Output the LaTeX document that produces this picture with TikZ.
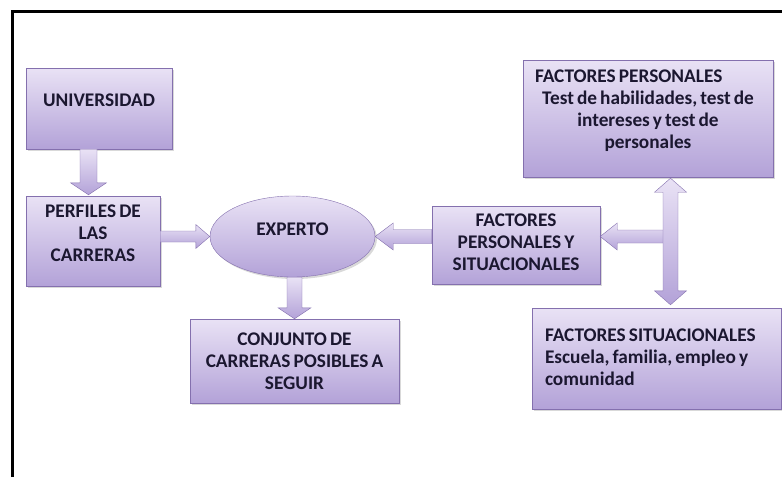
\documentclass[tikz,border=0pt]{standalone}
\usepackage{fontspec}
\setmainfont{Carlito}[WordSpace=0.7]
\usetikzlibrary{calc,arrows,shapes,positioning,shadows}
\definecolor{boxtop}{HTML}{E9E2F5}
\definecolor{boxbot}{HTML}{B3A2D8}
\definecolor{boxedge}{HTML}{8470AE}
\definecolor{inktext}{HTML}{1B1730}
\newcommand{\lift}[1]{\rule[-#1]{0pt}{#1}}
\tikzset{
    block/.style={
    rectangle,draw=boxedge,top color=boxtop,bottom color=boxbot,
    drop shadow={shadow xshift=2pt,shadow yshift=-2pt,opacity=0.3},
    text=inktext,font=\bfseries\fontsize{19.3}{22}\selectfont,align=center,inner sep=0pt
    },
    oval/.style={
    ellipse,draw=boxedge,top color=boxtop,bottom color=boxbot,
    drop shadow={shadow xshift=2pt,shadow yshift=-2pt,opacity=0.3},
    text=inktext,font=\bfseries\fontsize{19.3}{22}\selectfont,inner sep=0pt
    },
    barrow/.style n args={3}{
    draw=boxedge,top color=boxtop,bottom color=boxbot,
    to path={
      let \p1=(\tikztostart), \p2=(\tikztotarget),
          \n1={atan2(\y2-\y1,\x2-\x1)}, \n2={veclen(\x2-\x1,\y2-\y1)} in
      [shift={(\p1)},rotate=\n1]
      (0pt,-#1) -- (\n2-#3,-#1) -- (\n2-#3,-#2) -- (\n2,0pt)
      -- (\n2-#3,#2) -- (\n2-#3,#1) -- (0pt,#1) -- cycle
    }
    },
    dbarrow/.style n args={3}{
    draw=boxedge,top color=boxtop,bottom color=boxbot,
    to path={
      let \p1=(\tikztostart), \p2=(\tikztotarget),
          \n1={atan2(\y2-\y1,\x2-\x1)}, \n2={veclen(\x2-\x1,\y2-\y1)} in
      [shift={(\p1)},rotate=\n1]
      (0pt,0pt) -- (#3,-#2) -- (#3,-#1) -- (\n2-#3,-#1) -- (\n2-#3,-#2) -- (\n2,0pt)
      -- (\n2-#3,#2) -- (\n2-#3,#1) -- (#3,#1) -- (#3,#2) -- cycle
    }
    },
}
\begin{document}
\begin{tikzpicture}[x=1pt,y=-1pt]
  \useasboundingbox (0,0) rectangle (782,477);
  \draw[line width=3pt] (12,477) -- (12,11) -- (782,11);

  \node[block,minimum width=146pt,minimum height=81pt] (univ) at (99,108.5) {UNIVERSIDAD\lift{17pt}};
  \node[block,minimum width=134pt,minimum height=90pt] (perf) at (93,241) {PERFILES DE\\LAS\\CARRERAS\lift{15pt}};
  \node[oval,minimum width=165pt,minimum height=81pt] (exp) at (292.5,236.5) {EXPERTO\lift{15pt}};
  \node[block,minimum width=209pt,minimum height=84pt] (conj) at (294.5,361) {CONJUNTO DE\\CARRERAS POSIBLES A\\SEGUIR};
  \node[block,minimum width=168pt,minimum height=78pt] (fps) at (516,245) {FACTORES\\PERSONALES Y\\SITUACIONALES\lift{6pt}};
  \node[block,minimum width=250pt,minimum height=117pt] (fp) at (648,118.5)
    {\parbox{226pt}{\raggedright FACTORES PERSONALES\par
     \centering Test de habilidades, test de\\intereses y test de\\personales\lift{18pt}}};
  \node[block,minimum width=249pt,minimum height=101pt] (fs) at (656.5,358.5)
    {\parbox{223pt}{\raggedright FACTORES SITUACIONALES\\Escuela, familia, empleo y\\comunidad\lift{3pt}}};

  \coordinate (jn) at (670.5,236.5);
  \path[barrow={8.5pt}{18pt}{12pt}] ([xshift=-10.5pt]univ.south) to ([xshift=-4.5pt,yshift=1pt]perf.north);
  \path[barrow={5.5pt}{12pt}{14pt}] (perf.east |- exp.west) to (exp.west);
  \path[barrow={7.5pt}{16.5pt}{11pt}] (exp.south -| conj.north) to (conj.north);
  \path[barrow={7pt}{13.5pt}{18pt}] (fps.west |- exp.east) to (exp.east);
  \path[barrow={6.5pt}{13.5pt}{17pt}] (jn) to (fps.east |- jn);
  \path[dbarrow={7.5pt}{16pt}{14pt}] ([xshift=22.5pt,yshift=-1pt]fp.south) to ([xshift=14pt,yshift=3pt]fs.north);
\end{tikzpicture}
\end{document}
